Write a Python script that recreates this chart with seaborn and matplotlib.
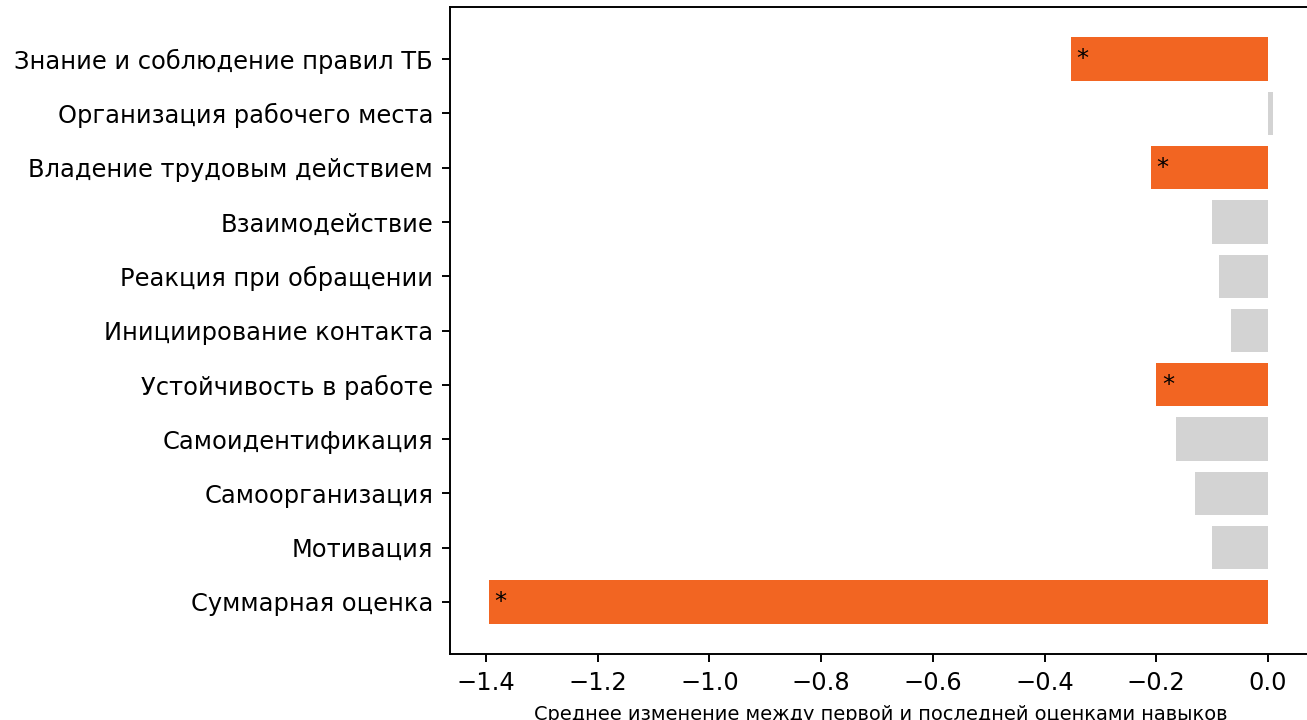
import matplotlib
matplotlib.use("Agg")
import matplotlib.pyplot as plt
import numpy as np
import pandas as pd
import seaborn as sns

# skill names, top to bottom
skills = [
    "Знание и соблюдение правил ТБ",
    "Организация рабочего места",
    "Владение трудовым действием",
    "Взаимодействие",
    "Реакция при обращении",
    "Инициирование контакта",
    "Устойчивость в работе",
    "Самоидентификация",
    "Самоорганизация",
    "Мотивация",
    "Суммарная оценка",
]
# mean change between first and last assessment
mean_change = [-0.353, 0.009, -0.21, -0.1, -0.087, -0.066, -0.2, -0.165, -0.131, -0.1, -1.395]
# statistically significant change
significant = [True, False, True, False, False, False, True, False, False, False, True]

df = pd.DataFrame({"skill": skills, "change": mean_change, "sig": significant})
colors = ["#F26522" if s else "#D3D3D3" for s in df["sig"]]

DPI = 174
fig = plt.figure(figsize=(1307 / DPI, 720 / DPI), dpi=DPI)
ax = fig.add_axes([450 / 1307, 66 / 720, 862 / 1307, 647 / 720])

sns.barplot(
    data=df,
    x="change",
    y="skill",
    hue="skill",
    palette=colors,
    legend=False,
    saturation=1,
    width=0.8,
    orient="h",
    ax=ax,
)

# asterisks for significant bars
for i, row in df.iterrows():
    if row["sig"]:
        ax.text(row["change"] + 0.01, i, "*", ha="left", va="center", fontsize=10)

ax.set_xlim(-1.4644, 0.0788)
ax.set_ylim(10.96, -0.96)
ax.set_ylabel("")
ax.set_xlabel("Среднее изменение между первой и последней оценками навыков", fontsize=8)
ax.tick_params(labelsize=10)

fig.savefig("out.png", dpi=DPI)
